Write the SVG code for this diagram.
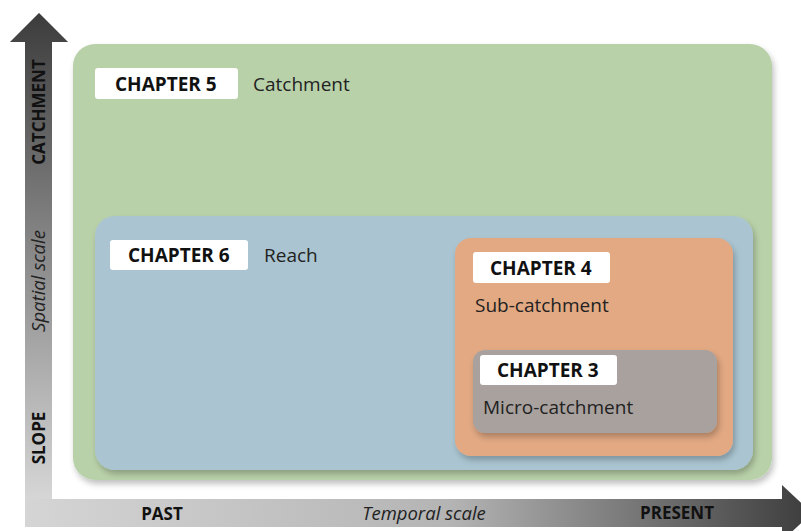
<svg xmlns="http://www.w3.org/2000/svg" width="801" height="531" viewBox="0 0 801 531">
<defs>
<linearGradient id="gv" x1="0" y1="0" x2="0" y2="1">
<stop offset="0" stop-color="#3c3c3c"/>
<stop offset="0.5" stop-color="#8a8a8a"/>
<stop offset="1" stop-color="#d6d6d6"/>
</linearGradient>
<linearGradient id="gh" x1="0" y1="0" x2="1" y2="0">
<stop offset="0" stop-color="#d6d6d6"/>
<stop offset="0.55" stop-color="#b4b4b4"/>
<stop offset="1" stop-color="#3c3c3c"/>
</linearGradient>
<filter id="sh" x="-10%" y="-10%" width="120%" height="125%">
<feGaussianBlur in="SourceAlpha" stdDeviation="3"/>
<feOffset dx="2" dy="4" result="b"/>
<feComponentTransfer><feFuncA type="linear" slope="0.25"/></feComponentTransfer>
<feMerge><feMergeNode/><feMergeNode in="SourceGraphic"/></feMerge>
</filter>
</defs>
<style>
.lab{fill:#ffffff}
.ch{font-family:"Open Sans","Liberation Sans",sans-serif;font-weight:bold;font-size:19px;fill:#111}
.nm{font-family:"Open Sans","Liberation Sans",sans-serif;font-size:19px;fill:#222}
.ax{font-family:"Open Sans","Liberation Sans",sans-serif;font-weight:bold;font-size:17px;fill:#111}
.it{font-family:"Open Sans","Liberation Sans",sans-serif;font-style:italic;font-size:18.5px;fill:#222}
</style>
<rect width="801" height="531" fill="#ffffff"/>
<g id="axes">
<polygon points="25,42 10,42 39,13 68,42 52,42 52,499 782,499 782,485 812,513 782,541 782,527 25,527" fill="url(#gh)"/>
<polygon points="25,42 10,42 39,13 68,42 52,42 52,499 25,499" fill="url(#gv)"/>
<text class="ax" transform="translate(45,112) rotate(-90)" text-anchor="middle">CATCHMENT</text>
<text class="it" transform="translate(45,281) rotate(-90)" text-anchor="middle">Spatial scale</text>
<text class="ax" transform="translate(45,438) rotate(-90)" text-anchor="middle">SLOPE</text>
<text class="ax" x="162" y="520" text-anchor="middle">PAST</text>
<text class="it" x="424" y="520" text-anchor="middle">Temporal scale</text>
<text class="ax" x="677" y="519" text-anchor="middle">PRESENT</text>
</g>
<g id="ch5">
<rect x="73" y="44" width="699" height="436" rx="22" fill="#b9d1a9" filter="url(#sh)"/>
<rect class="lab" x="95" y="68" width="143" height="31" rx="3"/>
<text class="ch" x="115" y="91">CHAPTER 5</text>
<text class="nm" x="253" y="91">Catchment</text>
</g>
<g id="ch6">
<rect x="95" y="216" width="658" height="254" rx="20" fill="#aac5d1" filter="url(#sh)"/>
<rect class="lab" x="110" y="240" width="138" height="30" rx="3"/>
<text class="ch" x="128" y="262">CHAPTER 6</text>
<text class="nm" x="264" y="262">Reach</text>
</g>
<g id="ch4">
<rect x="455" y="238" width="278" height="218" rx="16" fill="#e2a983" filter="url(#sh)"/>
<rect class="lab" x="473" y="252" width="137" height="31" rx="3"/>
<text class="ch" x="490" y="275">CHAPTER 4</text>
<text class="nm" x="475" y="312">Sub-catchment</text>
</g>
<g id="ch3">
<rect x="473" y="350" width="244" height="83" rx="12" fill="#a8a19e" filter="url(#sh)"/>
<rect class="lab" x="480" y="355" width="137" height="30" rx="3"/>
<text class="ch" x="497" y="377">CHAPTER 3</text>
<text class="nm" x="483" y="414">Micro-catchment</text>
</g>
</svg>
